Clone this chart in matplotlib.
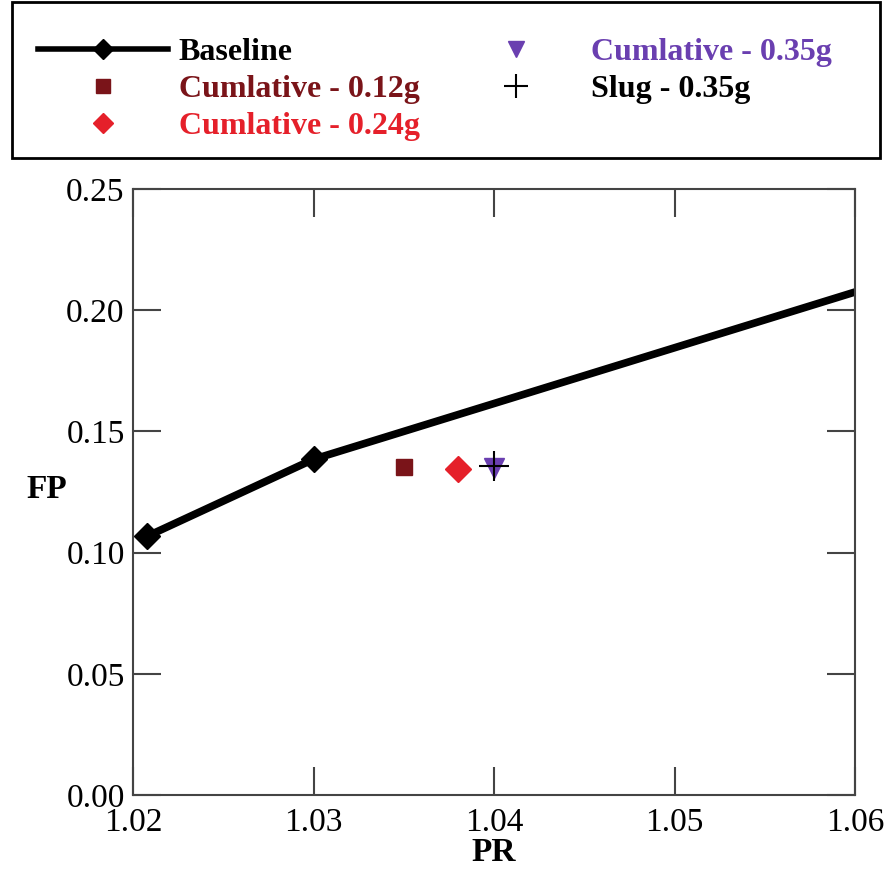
"""
FP vs PR for the baseline and the cumulative / slug cases.
"""
import matplotlib
matplotlib.use("Agg")
import matplotlib.pyplot as plt
from matplotlib.patches import Rectangle

# Baseline curve
base_pr = [1.0208, 1.0300, 1.0600]
base_fp = [0.1068, 0.1385, 0.2075]

# Single test points
case_labels = ["Cumlative - 0.12g", "Cumlative - 0.24g", "Cumlative - 0.35g", "Slug - 0.35g"]
case_pr = [1.035, 1.038, 1.040, 1.040]
case_fp = [0.1355, 0.1345, 0.1350, 0.1357]

x_ticks = [1.02, 1.03, 1.04, 1.05, 1.06]
y_ticks = [0.00, 0.05, 0.10, 0.15, 0.20, 0.25]

plt.rcParams["font.family"] = ["Liberation Serif", "DejaVu Serif"]

fig = plt.figure(figsize=(8.91, 8.69), dpi=100)
ax = fig.add_axes([133 / 891, 1 - 795 / 869, (855 - 133) / 891, (795 - 189) / 869])

# Baseline: marker only on the first two points, line runs to the edge
h_base, = ax.plot(base_pr, base_fp, color="black", lw=5.5, marker="D", ms=13,
                  markevery=[0, 1], label="Baseline")
h1, = ax.plot(case_pr[0], case_fp[0], ls="none", marker="s", ms=12,
              color="#7a1419", label=case_labels[0])
h2, = ax.plot(case_pr[1], case_fp[1], ls="none", marker="D", ms=13,
              color="#e5202a", label=case_labels[1])
h3, = ax.plot(case_pr[2], case_fp[2], ls="none", marker="v", ms=15,
              color="#6a3fb0", label=case_labels[2])
h4, = ax.plot(case_pr[3], case_fp[3], ls="none", marker="+", ms=21, mew=1.5,
              color="black", label=case_labels[3])

ax.set_xlim(1.02, 1.06)
ax.set_ylim(0.0, 0.25)
ax.set_xticks(x_ticks)
ax.set_yticks(y_ticks)
ax.set_xticklabels(["{:.2f}".format(v) for v in x_ticks])
ax.set_yticklabels(["{:.2f}".format(v) for v in y_ticks])
ax.tick_params(direction="in", length=20, width=1.5, color="#444444",
               labelsize=24, top=True, right=True)
ax.tick_params(axis="x", pad=9)
ax.tick_params(axis="y", pad=6)
for s in ax.spines.values():
    s.set_linewidth(1.5)
    s.set_color("#444444")

ax.set_xlabel("PR", fontsize=24, fontweight="bold", labelpad=-1)
ax.set_ylabel("FP", fontsize=24, fontweight="bold", rotation=0)
ax.yaxis.set_label_coords(-0.119, 0.478)

# Legend box across the top
fig.patches.append(Rectangle((12 / 891, 1 - 158 / 869), 868 / 891, 156 / 869,
                             transform=fig.transFigure, fill=False,
                             edgecolor="black", lw=2))

handles = [h_base, h1, h2, h3, h4]
leg = fig.legend(handles=handles, loc="upper left",
                 bbox_to_anchor=(38 / 891, 1 - 38 / 869),
                 ncol=2, frameon=False, handlelength=4.07, handletextpad=0.33,
                 columnspacing=0.97, labelspacing=0.24, borderaxespad=0,
                 borderpad=0, markerscale=0.8,
                 prop={"size": 23, "weight": "bold"})
leg.get_lines()[0].set_linewidth(4)
for txt, h in zip(leg.get_texts(), handles):
    txt.set_color(h.get_color())

fig.savefig("out.png", dpi=100)
